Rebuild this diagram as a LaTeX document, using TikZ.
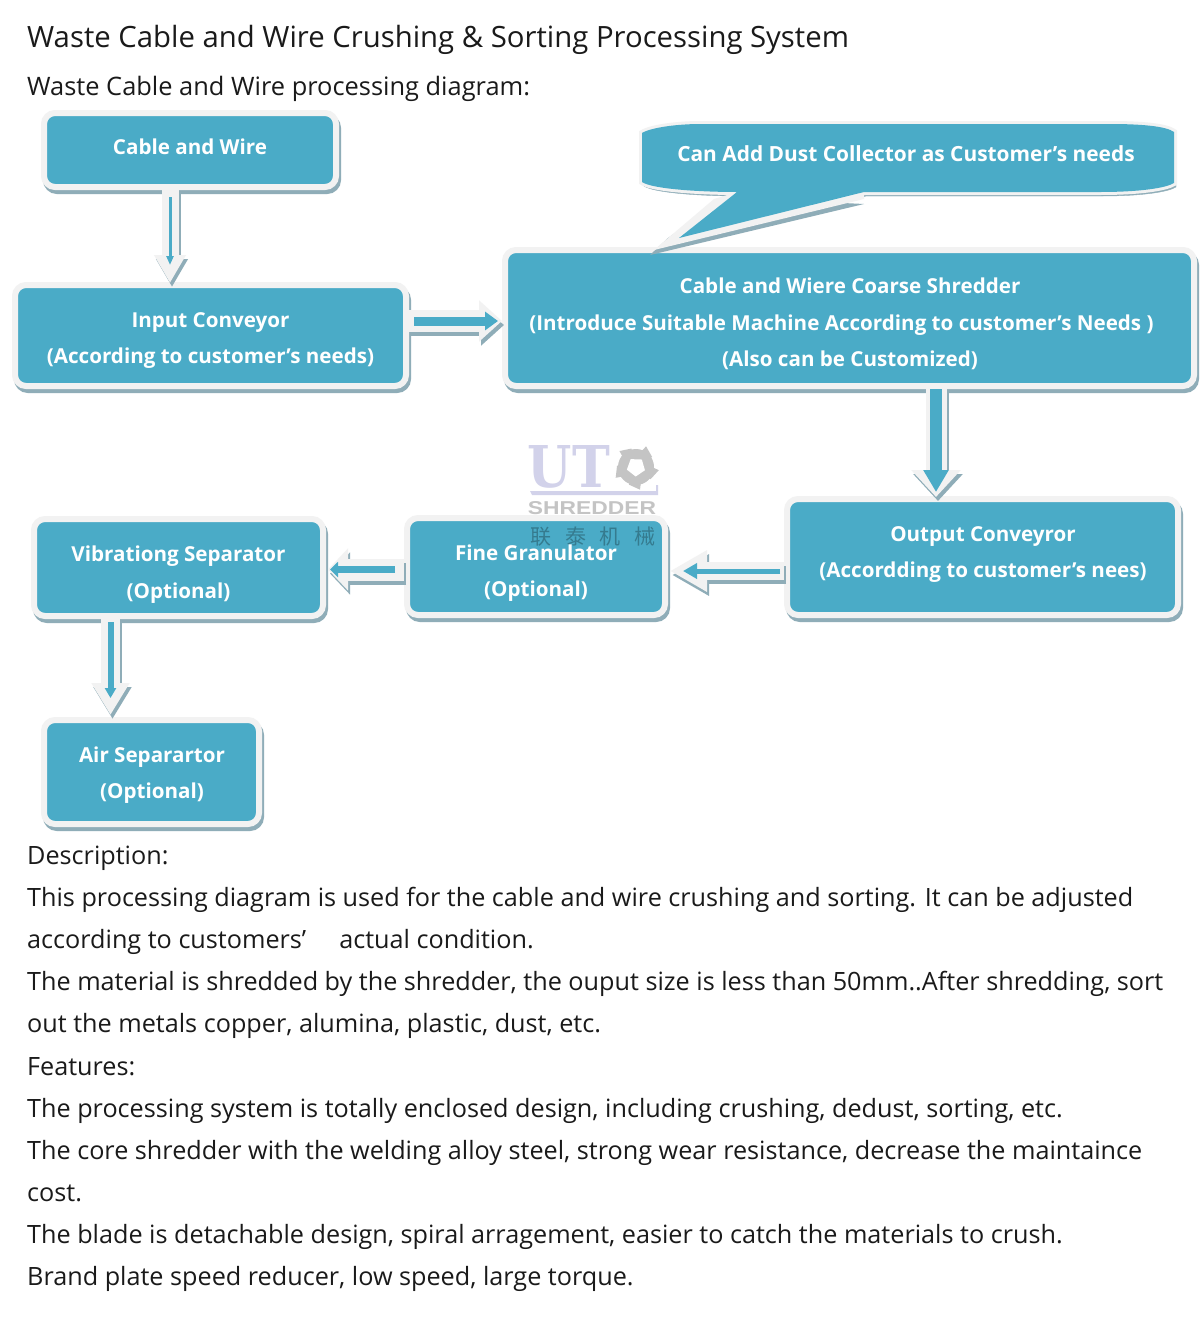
\documentclass[tikz,border=0pt]{standalone}
\usepackage{fontspec}
\setmainfont{Open Sans}
\newfontfamily\cjkfont{Noto Sans CJK SC}
\newfontfamily\wmserif{DejaVu Serif}
\newfontfamily\wmsans{Liberation Sans}
\usetikzlibrary{arrows.meta}
\definecolor{tealfill}{HTML}{4AABC7}
\definecolor{rimcol}{HTML}{F2F2F2}
\definecolor{shadecol}{HTML}{8FADB8}
\definecolor{inkcol}{HTML}{1A1A1A}
\definecolor{wmblue}{HTML}{D2D2EA}
\definecolor{wmgrey}{HTML}{C4C4C4}
\tikzset{
  x=1pt,y=-1pt,
  rim/.style={draw=rimcol,fill=tealfill,line width=6pt,rounded corners=11pt,inner sep=0pt,
    preaction={draw=shadecol,fill=shadecol,transform canvas={xshift=2pt,yshift=-4pt}}},
  boxtext/.style={text=white,font=\bfseries\fontsize{20.6}{36.3}\selectfont,align=center,inner sep=0pt},
  bodytext/.style={text=inkcol,anchor=base west,inner sep=0pt,font=\fontsize{25.2}{30}\selectfont},
  arrowpass/.style n args={4}{line width=#1pt,draw=#4,fill=#4,
    -{Triangle[width=#2pt,length=#3pt,sep=0pt]}},
}
% box: name, x0,y0,x1,y1 of the teal interior
\newcommand\flowbox[5]{%
  \pgfmathsetmacro\bw{#4-#2+6}\pgfmathsetmacro\bh{#5-#3+6}%
  \node[rim,minimum width=\bw pt,minimum height=\bh pt] (#1) at ({(#2+#4)/2},{(#3+#5)/2}) {};}
% block arrow: start, end, outer shaft/head w/head len, inner shaft/head w/head len, inner insets
\newcommand\blockarrow[9]{%
  \draw[arrowpass={#3}{#4}{#5}{shadecol},transform canvas={xshift=2pt,yshift=-4pt}] (#1) -- (#2);
  \draw[arrowpass={#3}{#4}{#5}{rimcol}] (#1) -- (#2);
  \draw[arrowpass={#6}{#7}{#8}{tealfill},#9] (#1) -- (#2);}
\newcommand\calloutpath{(642,133) .. controls (652,127) and (680,124) .. (700,124) -- (1110,124)
  .. controls (1140,124) and (1166,126) .. (1174,132) -- (1174,183)
  .. controls (1166,188) and (1140,192) .. (1100,192) -- (864,192) -- (679,238) -- (737,192)
  .. controls (700,192) and (652,189) .. (642,182) -- cycle}
\begin{document}
\begin{tikzpicture}
\useasboundingbox (0,0) rectangle (1200,1320);
\fill[white] (0,0) rectangle (1200,1320);

\node[bodytext,font=\fontsize{29.3}{34}\selectfont] (title) at (27,47) {Waste Cable and Wire Crushing \& Sorting Processing System};
\node[bodytext,font=\fontsize{25.4}{30}\selectfont] (sub) at (27,95) {Waste Cable and Wire processing diagram:};

\flowbox{cable}{47}{116}{333}{184}
\flowbox{input}{18}{288}{403}{383}
\flowbox{shred}{508}{253}{1191}{383}
\flowbox{output}{790}{502}{1175}{612}
\flowbox{fine}{410}{521}{662}{612}
\flowbox{vib}{37}{522}{320}{613}
\flowbox{air}{47}{723}{256}{821}

% callout
\path[rim,rounded corners=0pt] \calloutpath;
\fill[shadecol] (864,204) -- (650,255) -- (668,238) -- (716,204) -- (740,198) -- cycle;
\fill[rimcol] (864,192) -- (864,199) -- (654,250) -- (714,199) -- (737,192) -- cycle;
\fill[tealfill] \calloutpath;

% watermark
\node[inner sep=0pt,text=wmblue] (wmut) at (569,467) {\resizebox{82pt}{42pt}{\wmserif\bfseries UT}};
\fill[wmgrey] (636,467) circle[radius=18];
\foreach \a in {0,72,144,216,288}{
  \fill[wmgrey,shift={(636,467)}] (\a:16) -- (\a+8:23) -- (\a+40:19) -- (\a+40:14) -- cycle;
}
\fill[white,shift={(636,467)}] (20:9.5) -- (92:9.5) -- (164:9.5) -- (236:9.5) -- (308:9.5) -- cycle;
\fill[wmblue] (530,491) -- (656,491) -- (656,485) -- (658,485) -- (658,495) -- (532,495) -- cycle;
\node[inner sep=0pt,text=wmgrey] (wmsh) at (592,508.5) {\resizebox{128pt}{13pt}{\wmsans\bfseries SHREDDER}};
\node[inner sep=0pt,text=black,opacity=.28,font=\cjkfont\fontsize{21}{24}\selectfont] (wmcn) at (593,537) {联\hspace{13.5pt}泰\hspace{13.5pt}机\hspace{13.5pt}械};

% labels
\node[boxtext] (cablet) at (190,146.5) {Cable and Wire};
\node[boxtext] (inputt) at (210.5,340.5) {Input Conveyor\\(According to customer’s needs)};
\node[boxtext] (shredt) at (850,324) {Cable and Wiere Coarse Shredder\\\hspace*{-17pt}(Introduce Suitable Machine According to customer’s Needs )\\(Also can be Customized)};
\node[boxtext] (outputt) at (983,554.5) {Output Conveyror\\(Accordding to customer’s nees)};
\node[boxtext] (finet) at (536,573) {Fine Granulator\\(Optional)};
\node[boxtext] (vibt) at (178.5,574.5) {Vibrationg Separator\\(Optional)};
\node[boxtext] (airt) at (152,775) {Air Separartor\\(Optional)};
\node[boxtext,font=\bfseries\fontsize{20.9}{36}\selectfont] (dustt) at (906,154) {Can Add Dust Collector as Customer’s needs};

% connectors
\blockarrow{[xshift=-20pt]cable.south}{[xshift=-40.5pt,yshift=-1pt]input.north}{17}{30}{28}{3}{7}{9}{shorten <=7pt,shorten >=18pt}
\blockarrow{[yshift=14.5pt]input.east}{[yshift=-3pt]shred.west}{22}{40}{23}{9}{18}{13}{shorten <=5pt,shorten >=4pt}
\blockarrow{[xshift=86.5pt]shred.south}{[xshift=-46.5pt,yshift=-1pt]output.north}{21}{48}{27}{12}{24}{22}{shorten <=0pt,shorten >=5pt}
\blockarrow{[yshift=-14pt]output.west}{[xshift=2pt,yshift=-4.5pt]fine.east}{18}{39}{37}{5}{15}{14}{shorten <=4pt,shorten >=13pt}
\blockarrow{[yshift=-3pt]fine.west}{[xshift=2pt,yshift=-2pt]vib.east}{22}{41}{20}{7}{15}{8}{shorten <=9pt,shorten >=2pt}
\blockarrow{[xshift=-68pt]vib.south}{[xshift=-41pt,yshift=2pt]air.north}{19}{36}{32}{6}{11}{10}{shorten <=3pt,shorten >=17pt}

% body
\node[bodytext] (l1) at (27,864) {Description:};
\node[bodytext] (l2) at (27,906) {This processing diagram is used for the cable and wire crushing and sorting. It can be adjusted};
\node[bodytext] (l3) at (27,948) {according to customers’\hspace{33pt}actual condition.};
\node[bodytext] (l4) at (27,990) {The material is shredded by the shredder, the ouput size is less than 50mm..After shredding, sort};
\node[bodytext] (l5) at (27,1032) {out the metals copper, alumina, plastic, dust, etc.};
\node[bodytext] (l6) at (27,1075) {Features:};
\node[bodytext] (l7) at (27,1117) {The processing system is totally enclosed design, including crushing, dedust, sorting, etc.};
\node[bodytext] (l8) at (27,1159) {The core shredder with the welding alloy steel, strong wear resistance, decrease the maintaince};
\node[bodytext] (l9) at (27,1201) {cost.};
\node[bodytext] (l10) at (27,1243) {The blade is detachable design, spiral arragement, easier to catch the materials to crush.};
\node[bodytext] (l11) at (27,1285) {Brand plate speed reducer, low speed, large torque.};
\end{tikzpicture}
\end{document}
